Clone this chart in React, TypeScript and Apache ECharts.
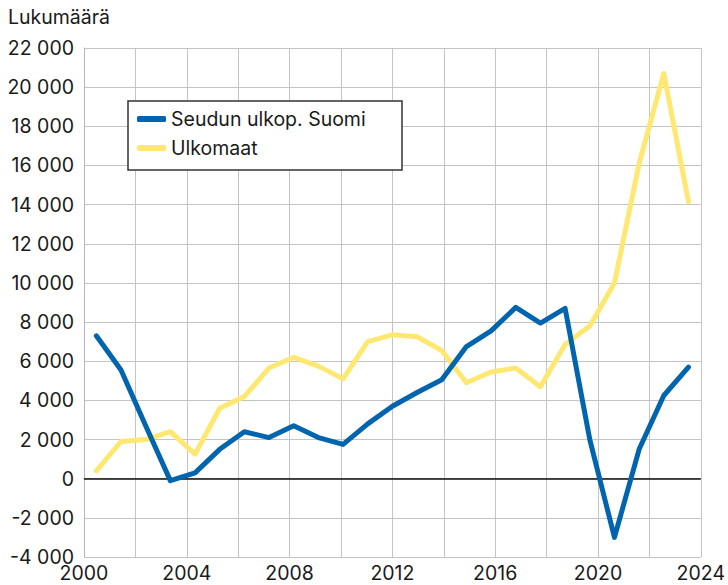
import React, { useEffect, useRef } from "react";
import * as echarts from "echarts";

const years = [
  "2000", "2001", "2002", "2003", "2004", "2005", "2006", "2007", "2008", "2009",
  "2010", "2011", "2012", "2013", "2014", "2015", "2016", "2017", "2018", "2019",
  "2020", "2021", "2022", "2023", "2024",
];
const seudunUlkopSuomi = [
  7300, 5550, 2700, -100, 300, 1500, 2400, 2100, 2700, 2100,
  1750, 2800, 3700, 4400, 5050, 6750, 7550, 8750, 7950, 8700,
  2000, -3000, 1500, 4250, 5700,
];
const ulkomaat = [
  400, 1900, 2000, 2400, 1250, 3600, 4200, 5650, 6200, 5750,
  5100, 7000, 7350, 7250, 6550, 4900, 5450, 5650, 4700, 6850,
  7800, 10000, 16100, 20700, 14150,
];
const seriesNames = ["Seudun ulkop. Suomi", "Ulkomaat"];
const yTitle = "Lukumäärä";

const FONT = "Inter, Roboto, 'Noto Sans', sans-serif";
const FS = 19.5;
const TEXT = "#1a1a1a";
const BLUE = "#0064ae";
const YELLOW = "#ffe872";

const fmt = (v: number) => {
  const s = Math.abs(v).toString();
  const withSpace = s.replace(/\B(?=(\d{3})+(?!\d))/g, " ");
  return (v < 0 ? "-" : "") + withSpace;
};

export default function App() {
  const ref = useRef<HTMLDivElement>(null);
  useEffect(() => {
    if (!ref.current) return;
    const chart = echarts.init(ref.current, undefined, { renderer: "svg" });
    chart.setOption({
      animation: false,
      backgroundColor: "#ffffff",
      textStyle: { fontFamily: FONT },
      grid: { left: 84, right: 24, top: 48, bottom: 28, containLabel: false },
      graphic: [
        {
          type: "text",
          left: 8,
          top: 7,
          style: { text: yTitle, fontSize: FS, fontFamily: FONT, fill: TEXT },
        },
        {
          type: "rect",
          shape: { x: 128, y: 101, width: 274, height: 69 },
          style: { fill: "#ffffff", stroke: "#333333", lineWidth: 1.5 },
          z: 10,
        },
      ],
      legend: {
        data: seriesNames,
        orient: "vertical",
        left: 137,
        top: 109,
        itemWidth: 29,
        itemHeight: 6,
        itemGap: 9,
        icon: "roundRect",
        padding: 0,
        z: 11,
        textStyle: { fontSize: FS, fontFamily: FONT, color: TEXT, padding: [0, 0, 0, 0] },
      },
      xAxis: [
        {
          type: "value",
          min: 2000,
          max: 2024,
          interval: 2,
          axisLine: { show: true, lineStyle: { color: "#b5b5b5", width: 1 } },
          axisTick: { show: false },
          splitLine: { show: true, lineStyle: { color: "#c4c4c4", width: 1 } },
          axisLabel: {
            fontSize: FS,
            fontFamily: FONT,
            color: TEXT,
            margin: 6,
            formatter: (v: number) => (v % 4 === 0 ? String(v) : ""),
          },
        },
        {
          type: "category",
          data: years,
          boundaryGap: true,
          show: false,
        },
      ],
      yAxis: {
        type: "value",
        min: -4000,
        max: 22000,
        interval: 2000,
        axisLine: { show: true, lineStyle: { color: "#b5b5b5", width: 1 } },
        axisTick: { show: false },
        splitLine: { show: true, lineStyle: { color: "#c4c4c4", width: 1 } },
        axisLabel: {
          fontSize: FS,
          fontFamily: FONT,
          color: TEXT,
          margin: 10,
          formatter: (v: number) => fmt(v),
        },
      },
      series: [
        {
          name: seriesNames[1],
          type: "line",
          xAxisIndex: 1,
          data: ulkomaat,
          showSymbol: false,
          symbol: "none",
          lineStyle: { color: YELLOW, width: 5, cap: "round", join: "round" },
          itemStyle: { color: YELLOW },
          z: 3,
        },
        {
          name: seriesNames[0],
          type: "line",
          xAxisIndex: 1,
          data: seudunUlkopSuomi,
          showSymbol: false,
          symbol: "none",
          lineStyle: { color: BLUE, width: 5, cap: "round", join: "round" },
          itemStyle: { color: BLUE },
          z: 4,
          markLine: {
            silent: true,
            symbol: "none",
            label: { show: false },
            lineStyle: { color: "#111111", width: 1.5, type: "solid" },
            data: [{ yAxis: 0 }],
            z: 2,
          },
        },
      ],
    });
    return () => chart.dispose();
  }, []);
  return (
    <div
      ref={ref}
      style={{ position: "fixed", left: 0, top: 0, width: 728, height: 585 }}
    />
  );
}
